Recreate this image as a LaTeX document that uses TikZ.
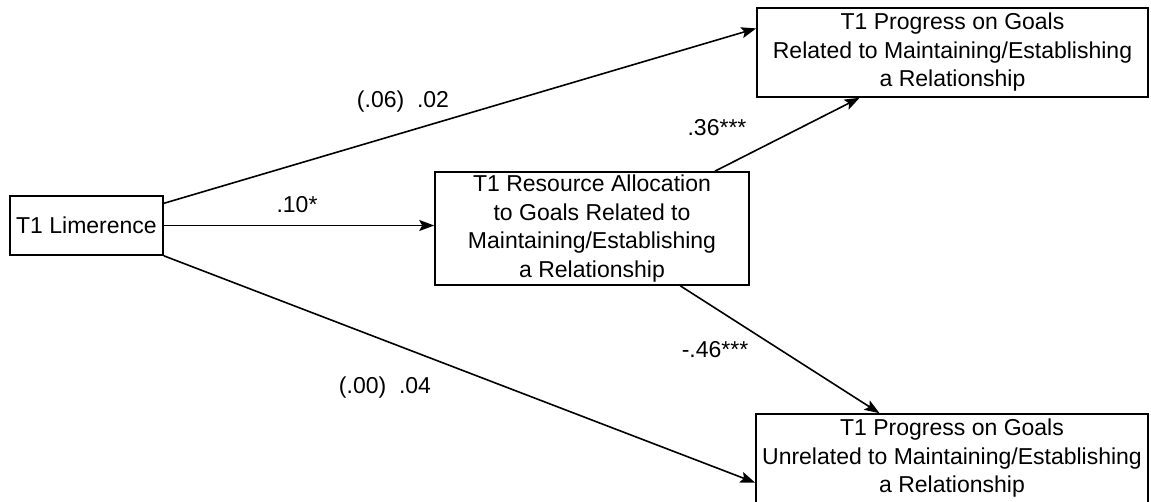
\documentclass[tikz,border=0pt]{standalone}
\usepackage{fontspec}
\setmainfont{Liberation Sans}
\usetikzlibrary{arrows.meta}

\tikzset{
  varbox/.style={draw, line width=1.6pt, align=center, inner sep=0pt,
    font=\fontsize{23}{28.5}\selectfont},
  pathline/.style={line width=1.6pt, -{Stealth[length=15pt,width=11pt,inset=3pt]}},
  coeff/.style={inner sep=0pt, font=\fontsize{23}{28}\selectfont}
}

\begin{document}
\begin{tikzpicture}[x=1pt,y=1pt,yscale=-1,xscale=1]
  \useasboundingbox (0,0) rectangle (1151,502);

  %Shape: Rectangle [T1 Limerence]
  \node [varbox, minimum width=153pt, minimum height=59pt] (lim) at (86.5,225.5) {T1 Limerence};
  %Shape: Rectangle [resource allocation]
  \node [varbox, minimum width=314pt, minimum height=113pt] (res) at (592,228.5)
    {T1 Resource Allocation\\to Goals Related to\\Maintaining/Establishing\\a Relationship};
  %Shape: Rectangle [progress, related]
  \node [varbox, minimum width=391pt, minimum height=89pt] (rel) at (952.5,52.5)
    {T1 Progress on Goals\\Related to Maintaining/Establishing\\a Relationship};
  %Shape: Rectangle [progress, unrelated]
  \node [varbox, minimum width=392pt, minimum height=89pt] (unrel) at (952,458.5)
    {T1 Progress on Goals\\Unrelated to Maintaining/Establishing\\a Relationship};

  %Straight Lines
  \draw [pathline] (lim.16) -- (rel.173);
  %Straight Lines
  \draw [pathline] (lim.east) -- (res.west |- lim.east);
  %Straight Lines
  \draw [pathline] (lim.south east) -- (unrel.187);
  %Straight Lines
  \draw [pathline] (res.25) -- (rel.206);
  %Straight Lines
  \draw [pathline] (res.-33) -- (unrel.148);

  % Text Node
  \node [coeff] (c1) at (403,102) {(.06)\ \ .02};
  % Text Node
  \node [coeff] (c2) at (297,205) {.10*};
  % Text Node
  \node [coeff] (c3) at (385,388) {(.00)\ \ .04};
  % Text Node
  \node [coeff] (c4) at (717,128) {.36***};
  % Text Node
  \node [coeff] (c5) at (715,350) {-.46***};

\end{tikzpicture}
\end{document}
